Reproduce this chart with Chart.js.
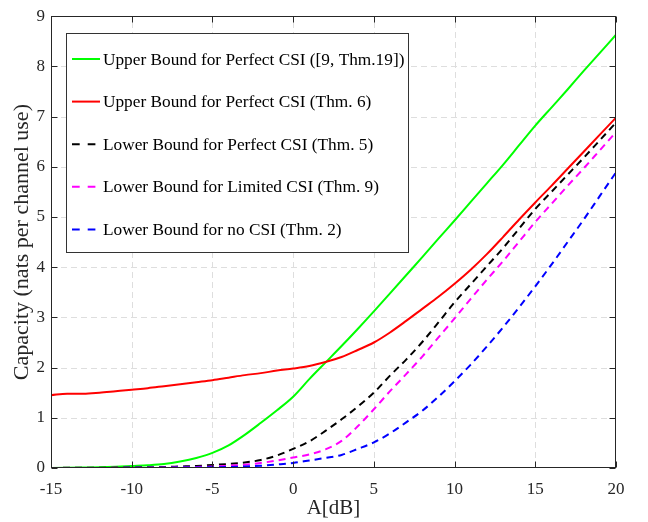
<!DOCTYPE html>
<html><head><meta charset="utf-8">
<script src="https://cdn.jsdelivr.net/npm/chart.js@4/dist/chart.umd.min.js"></script>
<style>html,body{margin:0;padding:0;background:#fff}#wrap{width:648px;height:522px;position:relative}</style>
</head><body><div id="wrap"><canvas id="c"></canvas></div>
<script>
const A_dB = [-15,-14,-13,-12,-11,-10,-9,-8,-7,-6,-5,-4,-3,-2,-1,0,1,2,3,4,5,6,7,8,9,10,11,12,13,14,15,16,17,18,19,20];
const upperPerfectRef = [0.00,0.005,0.01,0.015,0.025,0.04,0.055,0.08,0.13,0.2,0.3,0.45,0.66,0.9,1.15,1.42,1.77,2.1,2.43,2.77,3.12,3.48,3.84,4.2,4.57,4.93,5.3,5.67,6.04,6.43,6.82,7.18,7.54,7.91,8.27,8.63];
const upperPerfectThm6 = [1.45,1.48,1.48,1.5,1.53,1.56,1.59,1.63,1.67,1.71,1.75,1.8,1.85,1.89,1.94,1.98,2.03,2.11,2.21,2.35,2.5,2.7,2.93,3.17,3.41,3.67,3.95,4.26,4.6,4.95,5.29,5.62,5.96,6.3,6.64,6.98];
const lowerPerfectThm5 = [0.002,0.003,0.004,0.006,0.008,0.01,0.015,0.02,0.03,0.04,0.06,0.08,0.11,0.16,0.25,0.38,0.53,0.74,0.97,1.22,1.5,1.84,2.16,2.51,2.9,3.3,3.66,4.02,4.38,4.77,5.16,5.5,5.84,6.18,6.53,6.88];
const lowerLimitedThm9 = [0.001,0.001,0.002,0.002,0.003,0.005,0.007,0.01,0.014,0.02,0.03,0.045,0.065,0.1,0.15,0.21,0.27,0.37,0.54,0.83,1.17,1.53,1.87,2.22,2.6,2.98,3.37,3.75,4.12,4.51,4.9,5.26,5.62,5.97,6.33,6.69];
const lowerNoCSIThm2 = [0,0.001,0.001,0.002,0.002,0.003,0.004,0.006,0.008,0.011,0.015,0.02,0.03,0.045,0.07,0.1,0.15,0.2,0.26,0.38,0.51,0.69,0.91,1.14,1.42,1.73,2.06,2.42,2.8,3.2,3.62,4.05,4.5,4.95,5.42,5.89];
const seriesLabels = [
  'Upper Bound for Perfect CSI ([9, Thm.19])',
  'Upper Bound for Perfect CSI (Thm. 6)',
  'Lower Bound for Perfect CSI (Thm. 5)',
  'Lower Bound for Limited CSI (Thm. 9)',
  'Lower Bound for no CSI (Thm. 2)'
];
const xTicks = [-15,-10,-5,0,5,10,15,20];
const yTicks = [0,1,2,3,4,5,6,7,8,9];
const xTitle = 'A[dB]';
const yTitle = 'Capacity (nats per channel use)';

const FONT = '"Liberation Serif","Times New Roman",serif';
const AXC = '#262626';

const seriesValues = [upperPerfectRef, upperPerfectThm6, lowerPerfectThm5, lowerLimitedThm9, lowerNoCSIThm2];
const colors = ['#00ff00','#ff0000','#000000','#ff00ff','#0000ff'];
const dashes = [[],[],[7,5],[7,5],[7,5]];

const datasets = seriesValues.map((vals,i)=>({
  label: seriesLabels[i],
  data: A_dB.map((a,k)=>({x:a,y:vals[k]})),
  borderColor: colors[i],
  backgroundColor: colors[i],
  borderWidth: 2,
  borderDash: dashes[i],
  pointRadius: 0,
  fill: false,
  cubicInterpolationMode: 'monotone',
  order: 5 - i
}));

const gridPlugin = {
  id: 'dashGrid',
  beforeDatasetsDraw(chart){
    const ctx = chart.ctx;
    const {left,right,top,bottom} = chart.chartArea;
    const xs = chart.scales.x, ys = chart.scales.y;
    ctx.save();
    ctx.strokeStyle = '#dedede'; ctx.lineWidth = 1; ctx.setLineDash([6,4]);
    ctx.beginPath();
    xTicks.forEach(v=>{
      const px = Math.round(xs.getPixelForValue(v))+0.5;
      if (px < left+2 || px > right-2) return;
      ctx.moveTo(px,bottom); ctx.lineTo(px,top);
    });
    yTicks.forEach(v=>{
      const py = Math.round(ys.getPixelForValue(v))+0.5;
      if (py < top+2 || py > bottom-2) return;
      ctx.moveTo(left,py); ctx.lineTo(right,py);
    });
    ctx.stroke();
    ctx.restore();
  }
};

const framePlugin = {
  id: 'frame',
  afterDraw(chart){
    const ctx = chart.ctx;
    const {left,right,top,bottom} = chart.chartArea;
    const xs = chart.scales.x, ys = chart.scales.y;
    ctx.save();
    ctx.strokeStyle = AXC; ctx.lineWidth = 1; ctx.setLineDash([]);
    const L = Math.round(left)+0.5, R = Math.round(right)-0.5, T = Math.round(top)+0.5, B = Math.round(bottom)-0.5;
    ctx.strokeRect(L, T, R-L, B-T);
    ctx.beginPath();
    xTicks.forEach(v=>{
      const px = Math.round(xs.getPixelForValue(v))+0.5;
      ctx.moveTo(px,B); ctx.lineTo(px,B-6);
      ctx.moveTo(px,T); ctx.lineTo(px,T+6);
    });
    yTicks.forEach(v=>{
      const py = Math.round(ys.getPixelForValue(v))+0.5;
      ctx.moveTo(L,py); ctx.lineTo(L+6,py);
      ctx.moveTo(R,py); ctx.lineTo(R-6,py);
    });
    ctx.stroke();
    ctx.restore();
  }
};

const legendPlugin = {
  id: 'boxLegend',
  afterDraw(chart){
    const ctx = chart.ctx;
    ctx.save();
    const bx = 66.5, by = 33.5, bw = 342, bh = 219;
    ctx.fillStyle = '#fff';
    ctx.fillRect(bx,by,bw,bh);
    ctx.strokeStyle = '#333'; ctx.lineWidth = 1; ctx.setLineDash([]);
    ctx.strokeRect(bx,by,bw,bh);
    ctx.font = '17.3px ' + FONT;
    ctx.textBaseline = 'middle';
    chart.data.datasets.forEach((ds,i)=>{
      const yy = 59 + i*42.6;
      ctx.strokeStyle = ds.borderColor; ctx.lineWidth = 2;
      ctx.setLineDash(ds.borderDash.length ? [7.7,8] : []);
      ctx.beginPath(); ctx.moveTo(72,yy); ctx.lineTo(100,yy); ctx.stroke();
      ctx.fillStyle = '#000';
      ctx.fillText(ds.label, 103, yy+1);
    });
    ctx.restore();
  }
};

new Chart(document.getElementById('c'), {
  type: 'line',
  data: { datasets },
  options: {
    responsive: true,
    maintainAspectRatio: false,
    animation: false,
    layout: { padding: { top: 14, right: 32, left: 0, bottom: 0 } },
    plugins: { legend: { display: false }, tooltip: { enabled: false } },
    scales: {
      x: {
        type: 'linear', min: -15, max: 20,
        afterFit(s){ s.height = 54; },
        afterBuildTicks(s){ s.ticks = xTicks.map(v=>({value:v})); },
        grid: { display: false, drawTicks: false },
        border: { display: false },
        ticks: { color: AXC, font: { family: FONT, size: 17 }, padding: 11, maxRotation: 0, callback: v => String(v) },
        title: { display: true, text: xTitle, color: AXC, font: { family: FONT, size: 21 }, padding: { top: 0, bottom: 1 } }
      },
      y: {
        type: 'linear', min: 0, max: 9,
        afterFit(s){ s.width = 51; },
        afterBuildTicks(s){ s.ticks = yTicks.map(v=>({value:v})); },
        grid: { display: false, drawTicks: false },
        border: { display: false },
        ticks: { color: AXC, font: { family: FONT, size: 17 }, padding: 6, callback: v => String(v) },
        title: { display: true, text: yTitle, color: AXC, font: { family: FONT, size: 22 }, padding: { top: 9, bottom: 0 } }
      }
    }
  },
  plugins: [gridPlugin, framePlugin, legendPlugin]
});
</script>
</body></html>
